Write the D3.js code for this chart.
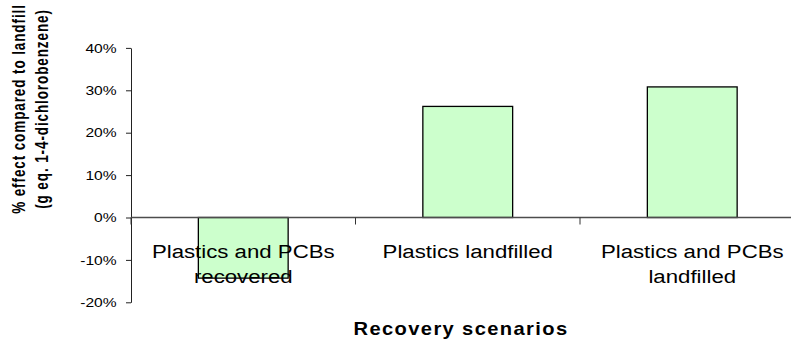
<!DOCTYPE html>
<html>
<head>
<meta charset="utf-8">
<script src="https://cdn.jsdelivr.net/npm/d3@7"></script>
<style>
  html, body { margin: 0; padding: 0; background: #fff; }
  svg { display: block; }
  text { font-family: "Liberation Sans", Arial, sans-serif; fill: #000; }
</style>
</head>
<body>
<svg id="chart" width="791" height="343"></svg>
<script>
// Scenario names (each split into its wrapped lines) and effect relative to landfill
const categories = [
  ["Plastics and PCBs", "recovered"],
  ["Plastics landfilled"],
  ["Plastics and PCBs", "landfilled"]
];
const effects = [-0.143, 0.262, 0.308];
const yTicks = [-0.2, -0.1, 0, 0.1, 0.2, 0.3, 0.4];
const yTitleLines = ["% effect compared to landfill", "(g eq. 1-4-dichlorobenzene)"];
const xTitle = "Recovery scenarios";

const svg = d3.select("#chart");
const keys = categories.map((c, i) => i);

const x = d3.scaleBand()
  .domain(keys)
  .range([131, 804.5])
  .paddingInner(0.6)
  .paddingOuter(0.3);

const y = d3.scaleLinear()
  .domain([d3.min(yTicks), d3.max(yTicks)])
  .range([302.3, 47.9]);

// Bars
svg.append("g")
  .selectAll("rect")
  .data(effects)
  .join("rect")
  .attr("x", (d, i) => x(i))
  .attr("width", x.bandwidth())
  .attr("y", d => y(Math.max(0, d)))
  .attr("height", d => Math.abs(y(d) - y(0)))
  .attr("fill", "#ccffcc")
  .attr("stroke", "#000")
  .attr("stroke-width", 1.3);

// Value axis (percent labels with a plain hyphen for negatives)
const pct = d => Math.round(d * 100) + "%";
const yAxis = svg.append("g")
  .attr("transform", "translate(131,0)")
  .call(d3.axisLeft(y).tickValues(yTicks).tickFormat(pct).tickSize(5).tickPadding(7).tickSizeOuter(0));
yAxis.select(".domain").attr("stroke", "#222").attr("stroke-width", 1);
yAxis.selectAll(".tick line").attr("stroke", "#222");
yAxis.selectAll(".tick text")
  .attr("font-size", 13)
  .attr("font-family", "Liberation Sans, Arial, sans-serif")
  .attr("transform", "scale(1.2,1)");

// Category axis along the zero line, with ticks between categories
const step = x.step();
const edges = d3.range(categories.length + 1).map(i => 131 + i * step);
svg.append("line")
  .attr("x1", 131).attr("x2", 804.5)
  .attr("y1", y(0)).attr("y2", y(0))
  .attr("stroke", "#4d4d4d").attr("stroke-width", 1.5);
svg.append("g")
  .selectAll("line")
  .data(edges)
  .join("line")
  .attr("x1", d => d).attr("x2", d => d)
  .attr("y1", y(0)).attr("y2", y(0) + 7)
  .attr("stroke", "#333");

// Category labels
const catG = svg.append("g");
categories.forEach((lines, i) => {
  const cx = x(i) + x.bandwidth() / 2;
  lines.forEach((line, j) => {
    catG.append("text")
      .attr("transform", `translate(${cx},${258 + j * 25}) scale(1.17,1)`)
      .attr("text-anchor", "middle")
      .attr("font-size", 19)
      .text(line);
  });
});

// Axis titles
svg.append("text")
  .attr("transform", "translate(461,335) scale(1.15,1)")
  .attr("text-anchor", "middle")
  .attr("font-size", 17.5)
  .attr("font-weight", "bold")
  .attr("letter-spacing", 1.2)
  .text(xTitle);

yTitleLines.forEach((line, j) => {
  svg.append("text")
    .attr("transform", `translate(${25 + j * 23},109) rotate(-90) scale(1,1.4)`)
    .attr("text-anchor", "middle")
    .attr("font-size", 13.5)
    .attr("font-weight", "bold")
    .style("letter-spacing", "0.9px")
    .text(line);
});
</script>
</body>
</html>
